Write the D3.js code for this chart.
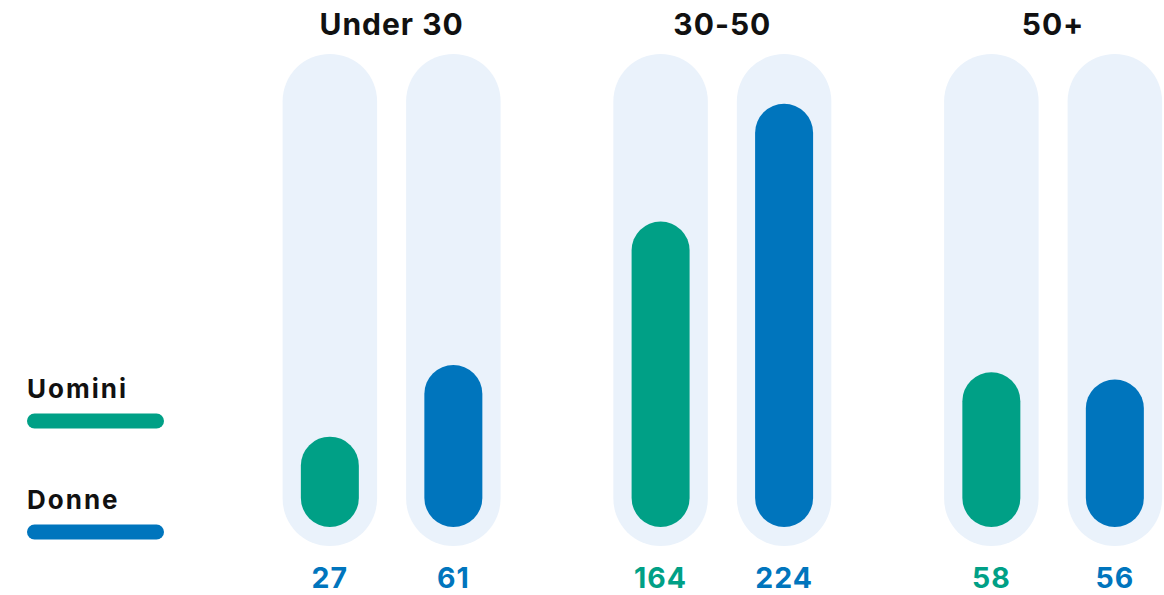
<!DOCTYPE html>
<html><head><meta charset="utf-8">
<script src="https://cdn.jsdelivr.net/npm/d3@7"></script>
<style>
html,body{margin:0;padding:0;background:#fff;}
svg{display:block;font-family:Inter,"Noto Sans",sans-serif;}
</style></head>
<body>
<svg id="chart" width="1164" height="595"></svg>
<script>
// ---- data ----
const groups = ["Under 30", "30-50", "50+"];
const series = ["Uomini", "Donne"];
// displayed counts
const uomini = [27, 164, 58];
const donne = [61, 224, 56];
// bar fill as percent of the track
const uominiFill = [19.9, 67.3, 34.1];
const donneFill = [35.7, 93.2, 32.5];
// label colour keys (as shown in the picture)
const uominiLabelKey = ["Donne", "Uomini", "Uomini"];
const donneLabelKey = ["Donne", "Donne", "Donne"];

// ---- styles ----
const color = d3.scaleOrdinal().domain(series).range(["#00A086", "#0075BD"]);
const trackColor = "#EAF2FB";

const svg = d3.select("#chart");

const x = d3.scaleLinear().domain([0, groups.length - 1]).range([391.6, 1053.1]);
const sub = d3.scaleOrdinal().domain(series).range([-61.75, 61.75]);

const trackW = 94.5, trackTop = 54, trackBottom = 546;
const inset = 19, barW = 58;
const barBottom = trackBottom - inset;
const len = d3.scaleLinear().domain([0, 100]).range([0, barBottom - (trackTop + inset)]);

const rows = [];
groups.forEach((g, i) => {
  rows.push({g, i, s: "Uomini", v: uomini[i], f: uominiFill[i], lk: uominiLabelKey[i]});
  rows.push({g, i, s: "Donne", v: donne[i], f: donneFill[i], lk: donneLabelKey[i]});
});

// tracks
svg.append("g").selectAll("rect").data(rows).join("rect")
  .attr("x", d => x(d.i) + sub(d.s) - trackW / 2)
  .attr("y", trackTop)
  .attr("width", trackW)
  .attr("height", trackBottom - trackTop)
  .attr("rx", trackW / 2).attr("ry", trackW / 2)
  .attr("fill", trackColor);

// bars
svg.append("g").selectAll("rect").data(rows).join("rect")
  .attr("x", d => x(d.i) + sub(d.s) - barW / 2)
  .attr("y", d => barBottom - len(d.f))
  .attr("width", barW)
  .attr("height", d => len(d.f))
  .attr("rx", barW / 2).attr("ry", barW / 2)
  .attr("fill", d => color(d.s));

// value labels
svg.append("g").selectAll("text").data(rows).join("text")
  .attr("x", d => x(d.i) + sub(d.s))
  .attr("y", 588)
  .attr("text-anchor", "middle")
  .attr("font-size", 28.5).attr("font-weight", 700)
  .attr("letter-spacing", 1)
  .attr("fill", d => color(d.lk))
  .text(d => d.v);

// group titles
svg.append("g").selectAll("text").data(groups).join("text")
  .attr("x", (d, i) => x(i))
  .attr("y", 35)
  .attr("text-anchor", "middle")
  .attr("font-size", 30).attr("font-weight", 700)
  .attr("letter-spacing", 1)
  .attr("fill", "#111")
  .text(d => d);

// legend
const leg = svg.append("g").selectAll("g").data(series).join("g")
  .attr("transform", (d, i) => `translate(27,${398 + i * 111})`);
leg.append("text")
  .attr("x", 0).attr("y", 0)
  .attr("font-size", 26).attr("font-weight", 700)
  .attr("letter-spacing", 2)
  .attr("fill", "#111")
  .text(d => d);
leg.append("rect")
  .attr("x", 0).attr("y", 15.5)
  .attr("width", 137).attr("height", 15)
  .attr("rx", 7.5).attr("ry", 7.5)
  .attr("fill", d => color(d));
</script>
</body></html>
